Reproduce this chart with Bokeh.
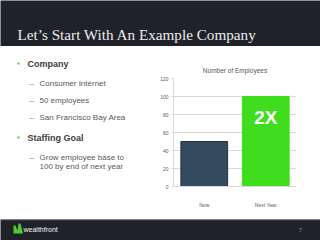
from bokeh.plotting import figure
from bokeh.models import FixedTicker, Range1d
from bokeh.layouts import column, row
from bokeh.core.properties import value
from bokeh.embed import file_html
from bokeh.resources import INLINE

# ---- data ----
categories = ["Now", "Next Year"]
employees = [50, 100]
bar_colors = ["#344a5e", "#40dc1e"]
y_ticks = [0, 20, 40, 60, 80, 100, 120]
chart_title = "Number of Employees"
slide_title = "Let\u2019s Start With An Example Company"
bullets = ["Company", "Staffing Goal"]
company_items = ["Consumer Internet", "50 employees", "San Francisco Bay Area"]
goal_items = ["Grow employee base to", "100 by end of next year"]
badge = "2X"
page_number = "7"
brand = "wealthfront"

W, H = 320, 240
HEADER_H = 46
FOOTER_H = 21
MID_H = H - HEADER_H - FOOTER_H
LEFT_W = 145
DARK = "#1f2229"
SANS = "Liberation Sans"


def blank(w, h, bg="white"):
    f = figure(width=w, height=h, x_range=Range1d(0, w), y_range=Range1d(h, 0),
               output_backend="svg", toolbar_location=None,
               x_axis_location=None, y_axis_location=None, min_border=0,
               frame_align=False)
    f.xgrid.grid_line_color = None
    f.ygrid.grid_line_color = None
    f.outline_line_color = None
    f.background_fill_color = bg
    f.border_fill_color = bg
    return f


def txt(f, x, y, s, size, color, font=SANS, style="normal", align="left",
        baseline="middle"):
    f.text(x=[x], y=[y], text=[s], text_font=value(font), text_font_size=size,
           text_font_style=style, text_color=color, text_align=align,
           text_baseline=baseline)


# ---- header ----
header = blank(W, HEADER_H, DARK)
txt(header, 17, 34, slide_title, "15.2px", "#ececec", font="Liberation Serif")

# ---- left text panel ----
left = blank(LEFT_W, MID_H)
oy = HEADER_H
for by, s in zip([63, 137], bullets):
    left.quad(left=[17], right=[19], top=[by - oy - 1], bottom=[by - oy + 1],
              fill_color="#4ccd2b", line_color=None)
    txt(left, 27, by - oy, s, "9px", "#404040", style="bold")
for cy, s in zip([83, 100, 117], company_items):
    txt(left, 29, cy - oy, "\u2013", "8px", "#7a7a7a")
    txt(left, 39, cy - oy, s, "8px", "#595959")
txt(left, 29, 157 - oy, "\u2013", "8px", "#7a7a7a")
for cy, s in zip([157, 166], goal_items):
    txt(left, 39, cy - oy, s, "8px", "#595959")

# ---- chart ----
FL, FR, FT, FB = 173, 296, 78, 186
p = figure(width=W - LEFT_W, height=MID_H, x_range=categories, y_range=(0, 120),
           output_backend="svg", toolbar_location=None,
           min_border_left=FL - LEFT_W, min_border_right=W - FR,
           min_border_top=FT - HEADER_H, min_border_bottom=HEADER_H + MID_H - FB,
           title=chart_title, frame_align=False)
p.outline_line_color = None
p.background_fill_color = "white"
p.border_fill_color = "white"

p.title.align = "center"
p.title.text_font = SANS
p.title.text_font_size = "6.5px"
p.title.text_font_style = "normal"
p.title.text_color = "#595959"
p.title.standoff = 10

p.xgrid.grid_line_color = None
p.ygrid.grid_line_color = "#d9d9d9"
p.ygrid.grid_line_width = 1

p.yaxis.ticker = FixedTicker(ticks=y_ticks)
p.yaxis.axis_line_color = "#d9d9d9"
p.yaxis.major_tick_line_color = "#d9d9d9"
p.yaxis.major_tick_out = 2
p.yaxis.major_tick_in = 0
p.yaxis.minor_tick_line_color = None
p.yaxis.major_label_text_font = SANS
p.yaxis.major_label_text_font_size = "5px"
p.yaxis.major_label_text_color = "#595959"
p.yaxis.major_label_standoff = 3

p.xaxis.axis_line_color = "#d9d9d9"
p.xaxis.major_tick_line_color = None
p.xaxis.major_label_text_font = SANS
p.xaxis.major_label_text_font_size = "5px"
p.xaxis.major_label_text_color = "#595959"
p.xaxis.major_label_standoff = 9

p.vbar(x=categories, top=employees, width=0.76, fill_color=bar_colors,
       line_color=["#24323f", bar_colors[1]], line_width=1)

p.text(x=[categories[1]], y=[employees[1]], text=[badge], y_offset=21,
       text_align="center", text_baseline="middle",
       text_font=value(SANS), text_font_style="bold",
       text_font_size="19px", text_color="white")

# ---- footer ----
footer = blank(W, FOOTER_H, DARK)
footer.quad(left=[0], right=[W], top=[0], bottom=[1], fill_color="#4a4d53",
            line_color=None)
fy = H - FOOTER_H
footer.patch(x=[13, 15, 17, 18, 20, 22.5, 13],
             y=[v - fy for v in [225, 225, 230, 223, 223, 233, 233]],
             fill_color="#4ccd2b", line_color=None)
txt(footer, 23, 229 - fy, brand, "7px", "#f0f0f0")
txt(footer, 300, 229 - fy, page_number, "6px", "#8a8a8a", align="center")

layout = column(header, row(left, p, spacing=0), footer, spacing=0)
open("out.html", "w").write(file_html(layout, INLINE))
